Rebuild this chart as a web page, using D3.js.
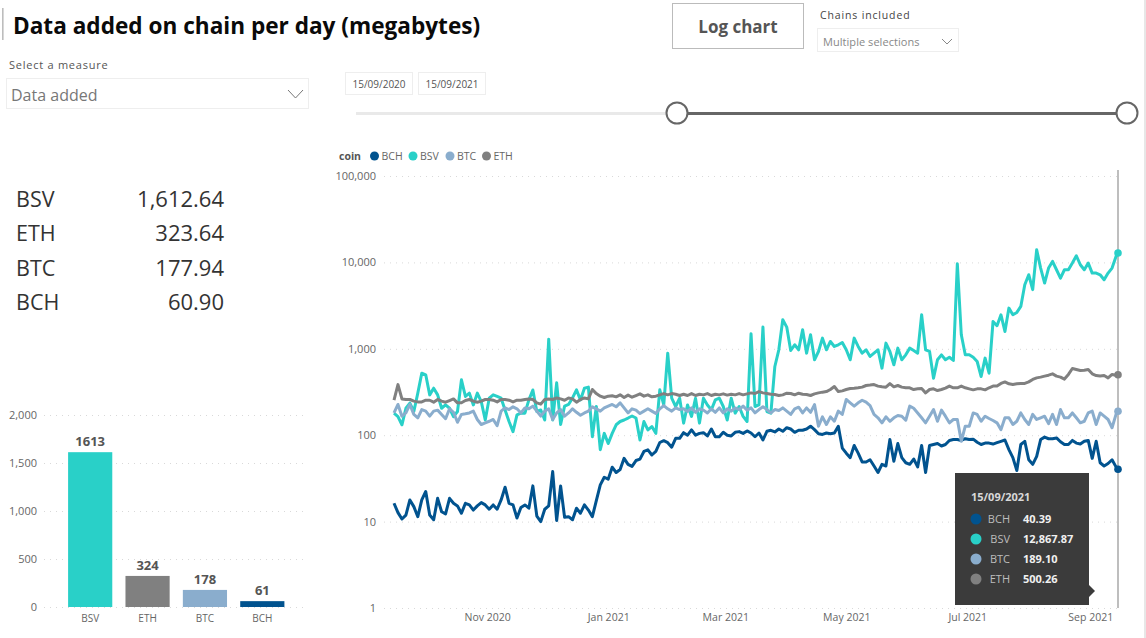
<!DOCTYPE html>
<html>
<head>
<meta charset="utf-8">
<script src="https://cdn.jsdelivr.net/npm/d3@7"></script>
<style>
html,body{margin:0;padding:0;background:#fff;overflow:hidden}
svg{display:block}
text{font-family:"Open Sans",sans-serif}
</style>
</head>
<body>
<svg id="c" width="1146" height="638"></svg>
<script>
// ---- data ----
const coins = ["BCH","BSV","BTC","ETH"];
const startDate = "2020-09-15";
const endDate = "2021-09-15";
const logTicks = [1,10,100,1000,10000,100000];
const monthTicks = ["2020-11-01","2021-01-01","2021-03-01","2021-05-01","2021-07-01","2021-09-01"];

const bchValues = [
16.3,12.7,10.7,11.9,17.8,14.9,11.4,17.8,22.3,11.9,
10.5,18.6,13,12.3,18.6,16.3,15.2,12.5,16.3,15.6,
13.6,15.2,16.6,15.6,13.9,15.6,13.9,17.8,25,16.3,
15.6,11,14.6,15.6,14.3,25.9,11.6,10,13.9,15.2,
37.9,10.3,25.9,11.2,11.4,10.5,14.3,12.5,15.6,13.6,
11.4,17.5,26.6,32.6,31,42.6,37,40,54,46,
43.5,50.9,52.8,64.8,67.6,59,64.8,82.3,86.5,82,
72.6,92,92,107,100,115,100,105,107,98,
118,96,96,108,100,98,108,110,105,112,
106,96,106,88,111,114,109,118,111,122,
118,108,114,114,118,127,116,104,102,106,
104,106,127,71,62,55,76,62,49,49,
52,44,37,46,44,89,50,80,55,48,
46,53,43,76,37,76,78,80,75,78,
87,89,89,87,91,89,90,83,78,81,
81,79,82,85,88,68,55,39,78,85,
52,46,57,89,95,91,91,93,84,78,
78,87,81,79,85,87,54,85,48,44,
47,52,43,40.39];

const bsvValues = [
180,164,132,205,235,188,307,522,500,293,
350,293,205,224,205,164,188,437,281,307,
224,307,245,150,268,293,281,268,196,144,
110,172,180,180,256,334,188,196,150,1294,
150,404,133,217,227,270,335,256,350,360,
96,215,68,105,80,105,132,144,150,158,
167,158,88,144,115,126,105,335,224,891,
268,215,268,138,224,165,268,138,268,224,
197,256,268,215,150,268,180,215,165,144,
1491,215,224,1783,188,180,624,974,2166,1783,
956,1113,974,1660,891,1453,746,931,1329,974,
1216,1064,1113,1184,974,746,1329,1064,891,974,
815,891,974,597,1163,931,653,1018,746,852,
1018,956,891,2476,974,931,457,746,852,746,
798,733,9652,1452,852,852,798,713,478,780,
522,2072,1850,2475,1588,2957,2475,2635,3095,5508,
7194,4837,14027,8597,5761,8597,10268,8223,6584,8223,
8223,9821,11942,9397,8223,9821,7524,7524,7194,6298,
7524,8597,11700,12867.87];

const btcValues = [
181,227,166,181,227,174,159,198,190,166,
190,195,174,155,202,184,141,174,177,181,
190,152,133,139,145,152,129,190,207,198,
213,202,181,207,202,217,190,166,190,202,
152,181,198,166,181,202,184,170,181,190,
213,202,190,207,217,227,213,237,207,181,
202,195,178,190,202,190,178,202,220,202,
190,207,198,202,188,207,184,202,195,181,
202,184,207,181,202,190,207,198,217,195,
207,181,198,213,198,181,198,193,207,190,
174,202,211,181,207,184,226,127,163,133,
163,145,190,174,259,237,217,237,254,241,
220,174,159,139,163,145,159,169,166,149,
217,205,181,159,139,166,198,145,195,166,
139,152,152,85,127,127,181,174,145,166,
156,148,139,116,159,159,133,145,181,152,
133,174,152,159,166,136,174,133,198,159,
159,181,159,139,145,181,190,133,181,166,
152,122,174,189.10];

const ethValues = [
254,385,263,259,259,248,243,243,254,254,
241,259,248,241,252,263,237,237,252,259,
248,241,248,259,259,254,243,259,259,254,
243,254,254,259,263,259,237,229,259,263,
259,270,263,254,270,263,241,259,270,263,
338,303,283,273,283,286,278,293,273,291,
275,288,301,283,293,278,283,293,303,293,
303,298,288,298,288,303,288,298,293,303,
288,298,293,301,291,298,293,303,293,301,
309,304,320,309,304,298,296,288,293,306,
304,293,306,298,296,288,301,309,315,320,
338,366,320,326,338,347,350,354,360,376,
380,386,370,363,360,396,363,376,360,354,
354,338,344,347,309,338,344,329,338,350,
370,354,354,370,354,344,335,344,344,335,
354,370,370,397,414,393,386,393,397,397,
414,442,461,470,483,495,513,483,470,446,
505,592,576,561,565,576,513,490,483,490,
461,505,495,500.26];

const kpiCoins = ["BSV","ETH","BTC","BCH"];
const kpiValues = [1612.64,323.64,177.94,60.90];
const barTicks = [0,500,1000,1500,2000];
const tipLabels = ["BCH","BSV","BTC","ETH"];
const tipValues = [40.39,12867.87,189.10,500.26];

// ---- styling ----
const colors = {BCH:"#01538f",BSV:"#29d0c8",BTC:"#8aadcd",ETH:"#808080"};
const seriesMap = {BCH:bchValues,BSV:bsvValues,BTC:btcValues,ETH:ethValues};
const svg = d3.select("#c");
const parse = d3.utcParse("%Y-%m-%d");
const t0 = parse(startDate), t1 = parse(endDate);
const DAY = 86400000;
// samples are read every second day; the final one is the last date of the range
const dateAt = (i,n) => i===n-1 ? t1 : new Date(+t0 + i*2*DAY);

function txt(x,y,s,o={}){
  const t = svg.append("text").attr("x",x).attr("y",y).text(s)
    .attr("font-size",o.size||11).attr("fill",o.fill||"#555")
    .attr("text-anchor",o.anchor||"start").attr("font-weight",o.weight||400);
  if(o.family) t.style("font-family",o.family);
  if(o.spacing) t.attr("letter-spacing",o.spacing);
  return t;
}
function box(x,y,w,h,stroke,sw=1,fill="#fff"){
  return svg.append("rect").attr("x",x).attr("y",y).attr("width",w).attr("height",h)
    .attr("fill",fill).attr("stroke",stroke).attr("stroke-width",sw);
}
function chevron(x0,x1,y0,y1,stroke){
  svg.append("path").attr("fill","none").attr("stroke",stroke).attr("stroke-width",1)
    .attr("d",d3.line()([[x0,y0],[(x0+x1)/2,y1],[x1,y0]]));
}

// ---- header and slicers ----
svg.append("rect").attr("x",2).attr("y",8).attr("width",1.6).attr("height",32).attr("fill","#bdbdbd");
txt(13,34,"Data added on chain per day (megabytes)",{size:22.6,weight:700,fill:"#0a0a0a"});
txt(9,69,"Select a measure",{size:11,fill:"#555",spacing:0.75});
box(6.5,78.5,302,30,"#eeeeee");
txt(11,101,"Data added",{size:16,fill:"#777"});
chevron(288,303,90,98,"#777");
box(345.5,72.5,67,22,"#eeeeee");
box(418.5,72.5,67,22,"#eeeeee");
txt(379,88,"15/09/2020",{size:10,anchor:"middle",fill:"#555"});
txt(452,88,"15/09/2021",{size:10,anchor:"middle",fill:"#555"});
box(672.5,3.5,131,45,"#bbbbbb");
txt(738,33,"Log chart",{size:17,weight:700,anchor:"middle",fill:"#555"});
txt(820,19,"Chains included",{size:10.5,fill:"#444",spacing:0.85});
box(817.5,28.5,141,23,"#eeeeee");
txt(823,46,"Multiple selections",{size:11,fill:"#888",spacing:0.05});
chevron(942,952,39,44,"#888");
svg.append("rect").attr("x",1144.5).attr("y",0).attr("width",1).attr("height",638).attr("fill","#cfcfcf");

// range slider
svg.append("rect").attr("x",356).attr("y",112).attr("width",321).attr("height",3).attr("fill","#e9e9e9");
svg.append("rect").attr("x",677).attr("y",112).attr("width",450).attr("height",3).attr("fill","#666");
[677,1127].forEach(cx=>svg.append("circle").attr("cx",cx).attr("cy",113).attr("r",10.5)
  .attr("fill","#fff").attr("stroke","#666").attr("stroke-width",2));

// ---- KPI table ----
const kpiY = d3.scalePoint().domain(kpiCoins).range([207,310]);
const fmt2 = d3.format(",.2f");
kpiCoins.forEach((c,i)=>{
  txt(16,kpiY(c),c,{size:21.5,fill:"#333"});
  txt(224,kpiY(c),fmt2(kpiValues[i]),{size:22,fill:"#333",anchor:"end"});
});

// ---- bar chart ----
const barX = d3.scaleBand().domain(kpiCoins).range([61.5,291]).paddingInner(0.23).paddingOuter(0.115);
const barY = d3.scaleLinear().domain([0,2000]).range([607,415]);
const barAxis = svg.append("g").attr("transform","translate(44,0)")
  .call(d3.axisLeft(barY).tickValues(barTicks).tickFormat(d3.format(",")).tickSize(-261).tickPadding(7));
barAxis.select(".domain").remove();
barAxis.selectAll("line").attr("stroke","#d9d9d9").attr("stroke-dasharray","1 5");
barAxis.selectAll("text").attr("fill","#666").attr("font-size",11);
svg.selectAll(".bar").data(kpiCoins).join("rect").attr("class","bar")
  .attr("x",d=>barX(d)).attr("width",barX.bandwidth())
  .attr("y",(d,i)=>barY(kpiValues[i])).attr("height",(d,i)=>607-barY(kpiValues[i]))
  .attr("fill",d=>colors[d]);
kpiCoins.forEach((c,i)=>{
  txt(barX(c)+barX.bandwidth()/2,barY(kpiValues[i])-6,d3.format(".0f")(kpiValues[i]),{size:13,weight:700,anchor:"middle",fill:"#555"});
  txt(barX(c)+barX.bandwidth()/2,622,c,{size:10,anchor:"middle",fill:"#666"});
});

// ---- line chart ----
const x = d3.scaleUtc().domain([t0,t1]).range([394,1118]);
const y = d3.scaleLog().domain([1,100000]).range([608,176]);
const yAxis = svg.append("g").attr("transform","translate(384,0)")
  .call(d3.axisLeft(y).tickValues(logTicks).tickFormat(d3.format(",")).tickSize(-738).tickPadding(8));
yAxis.select(".domain").remove();
yAxis.selectAll("line").attr("stroke","#d9d9d9").attr("stroke-dasharray","1 5");
yAxis.selectAll("text").attr("fill","#666").attr("font-size",11);
const xAxis = svg.append("g").attr("transform","translate(0,608)")
  .call(d3.axisBottom(x).tickValues(monthTicks.map(parse)).tickFormat(d3.utcFormat("%b %Y")).tickSize(0).tickPadding(6));
xAxis.select(".domain").remove();
xAxis.selectAll("text").attr("fill","#666").attr("font-size",10.5);

const line = d3.line().x(d=>x(d[0])).y(d=>y(d[1])).curve(d3.curveLinear);
svg.append("line").attr("x1",x(t1)).attr("x2",x(t1)).attr("y1",170).attr("y2",608)
  .attr("stroke","#a8a8a8").attr("stroke-width",1.5);
coins.forEach(c=>{
  const vals = seriesMap[c];
  const pts = vals.map((v,i)=>[dateAt(i,vals.length),v]);
  svg.append("path").datum(pts).attr("d",line).attr("fill","none")
    .attr("stroke",colors[c]).attr("stroke-width",3).attr("stroke-linejoin","round");
  svg.append("circle").attr("cx",x(t1)).attr("cy",y(vals[vals.length-1])).attr("r",3.8).attr("fill",colors[c]);
});

// ---- legend ----
txt(339,160,"coin",{size:10.5,weight:700,fill:"#555"});
const legendX = d3.scaleOrdinal().domain(coins).range([374.5,413,450,486.5]);
coins.forEach(c=>{
  svg.append("circle").attr("cx",legendX(c)).attr("cy",156).attr("r",4.5).attr("fill",colors[c]);
  txt(legendX(c)+7,160,c,{size:10.5,fill:"#666"});
});

// ---- tooltip ----
svg.append("rect").attr("x",955).attr("y",473).attr("width",134).attr("height",132).attr("fill","#3b3b3b");
svg.append("path").attr("d","M1089,585L1095,591L1089,597Z").attr("fill","#3b3b3b");
txt(971,501,"15/09/2021",{size:11,weight:700,fill:"#d8d8d8"});
tipLabels.forEach((c,i)=>{
  const ry = 519+i*20;
  svg.append("circle").attr("cx",976).attr("cy",ry).attr("r",5.5).attr("fill",colors[c]);
  txt(1010,ry+4,c,{size:11,anchor:"end",fill:"#bdbdbd"});
  txt(1023,ry+4,fmt2(tipValues[i]),{size:11,weight:700,fill:"#f0f0f0"});
});
</script>
</body>
</html>
